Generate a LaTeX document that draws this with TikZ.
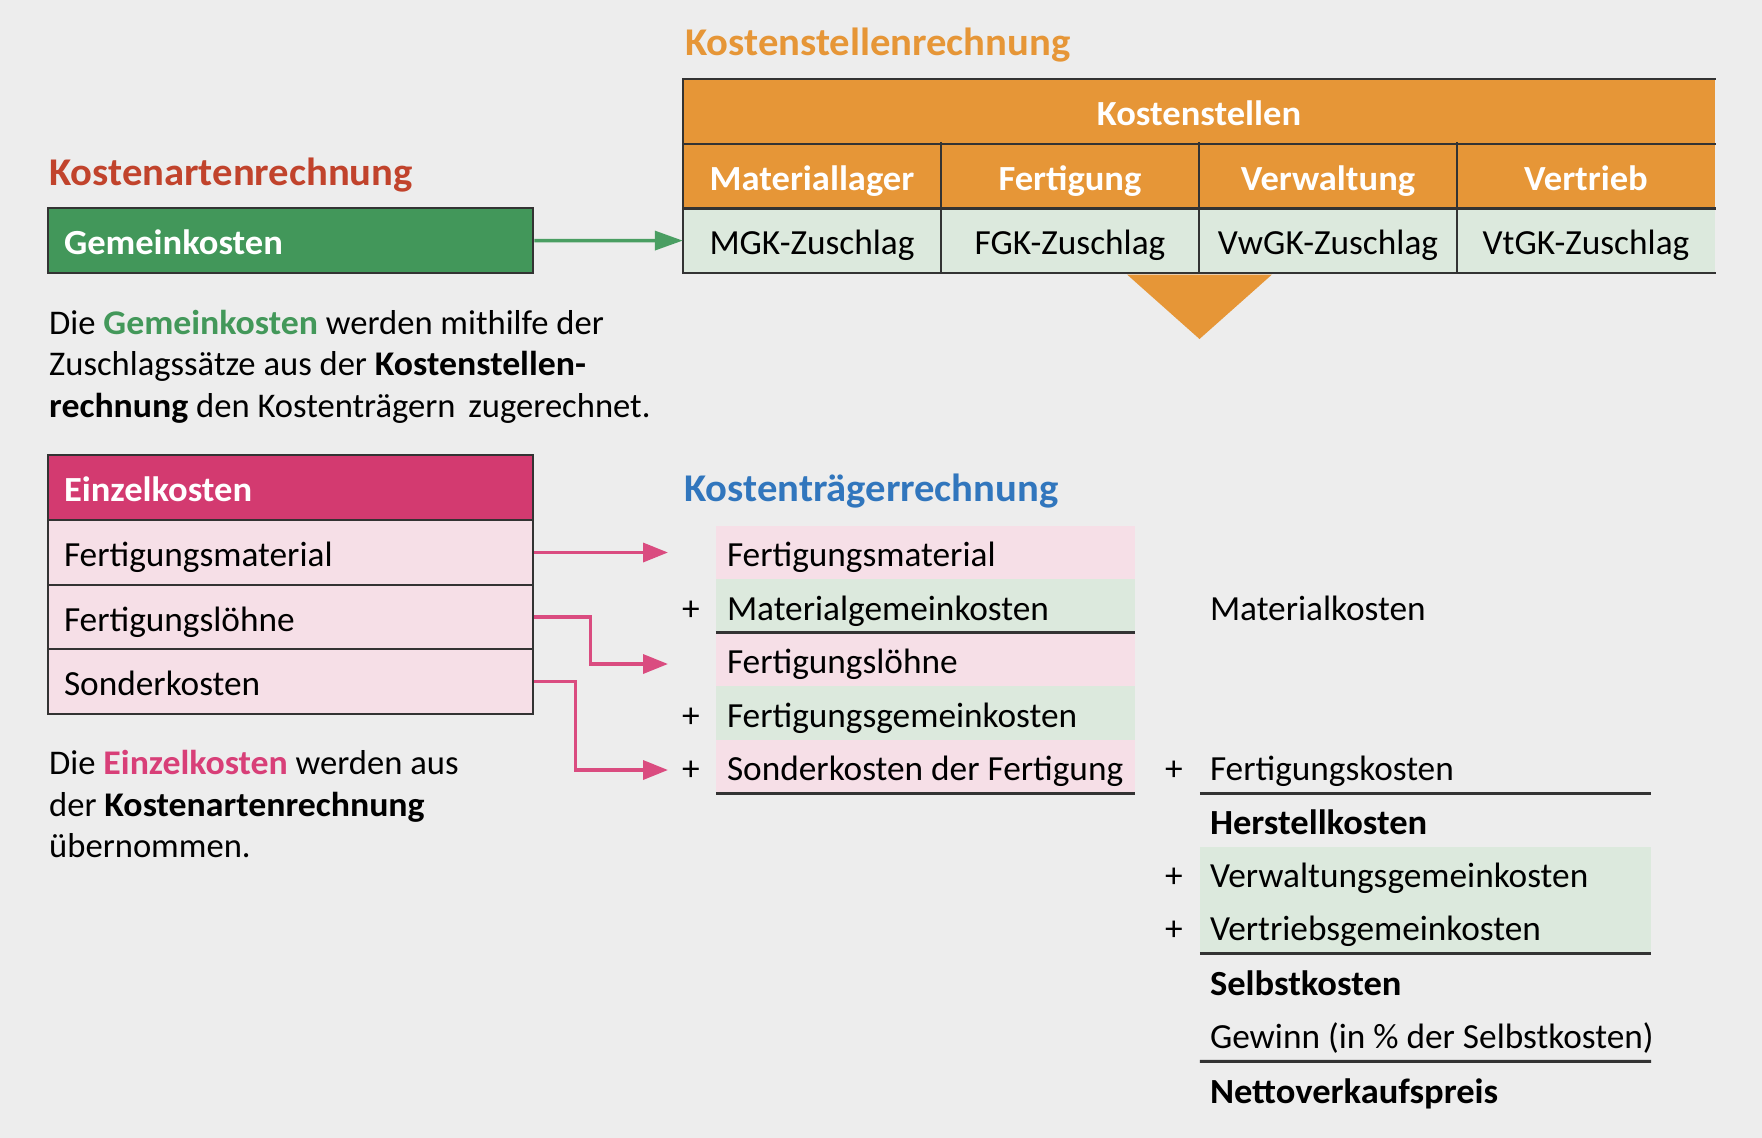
\documentclass[tikz,border=0pt]{standalone}
\usepackage{fontspec}
\setmainfont{Carlito}[BoldFeatures={FakeStretch=1.035}]
\usetikzlibrary{arrows.meta}
\definecolor{bg}{HTML}{EDEDED}
\definecolor{orng}{HTML}{E69637}
\definecolor{gbox}{HTML}{42975A}
\definecolor{gtext}{HTML}{43985A}
\definecolor{garrow}{HTML}{4A9E62}
\definecolor{phead}{HTML}{D33A70}
\definecolor{plight}{HTML}{F6DFE7}
\definecolor{ptext}{HTML}{D83F78}
\definecolor{parrow}{HTML}{DA4C80}
\definecolor{glight}{HTML}{DCE9DD}
\definecolor{tred}{HTML}{C1432C}
\definecolor{tblue}{HTML}{3176BD}
\definecolor{lnc}{HTML}{333333}
\begin{document}
\begin{tikzpicture}[x=1pt,y=-1pt,
  font=\fontsize{35.3}{42}\selectfont,
  txt/.style={inner sep=0pt, anchor=base west},
  ttl/.style={txt, font=\fontsize{39.3}{46}\selectfont\bfseries},
  para/.style={txt, font=\fontsize{34.6}{41}\selectfont},
  cell/.style={inner xsep=0pt, inner ysep=0pt, text height=28pt, text depth=0pt, anchor=center},
  lcell/.style={cell, minimum width=485pt, minimum height=65pt, text width=453pt, align=flush left, inner xsep=16pt, draw=lnc, line width=2.5pt},
  tcell/.style={cell, minimum width=258pt, minimum height=64.7pt},
  hlab/.style={text=white, font=\fontsize{35.3}{42}\selectfont\bfseries},
  krow/.style={cell, minimum height=53.5pt, text width=397pt, align=flush left, inner xsep=11pt},
  rrow/.style={cell, minimum height=53.5pt, text width=431pt, align=flush left, inner xsep=10pt},
  plus/.style={inner sep=0pt, anchor=base},
  grid/.style={draw=lnc, line width=2.5pt, line cap=rect},
  rule/.style={draw=lnc, line width=3pt},
  pinkarr/.style={draw=parrow, line width=3.5pt, -{Triangle[length=25pt,width=19pt]}},
  greenarr/.style={draw=garrow, line width=3.5pt, -{Triangle[length=28pt,width=19pt]}}
]
\useasboundingbox (0,0) rectangle (1762,1138);
\fill[bg] (0,0) rectangle (1762,1138);

% ---------- Kostenartenrechnung ----------
\node[ttl, text=tred] (t1) at (49,185.5) {Kostenartenrechnung};
\node[lcell, fill=gbox, hlab] (gk) at (290.5,240.5) {Gemeinkosten};

\node[para] (p1a) at (49,334) {Die \textcolor{gtext}{\textbf{Gemeinkosten}} werden mithilfe der};
\node[para] (p1b) at (49,375.5) {Zuschlagssätze aus der \textbf{Kostenstellen-}};
\node[para] (p1c) at (49,417) {\textbf{rechnung} den Kostenträgern\hspace{5pt} zugerechnet.};

\node[lcell, fill=phead, hlab] (ek) at (290.5,487.5) {Einzelkosten};
\node[lcell, fill=plight] (fm) at (290.5,552.5) {Fertigungsmaterial};
\node[lcell, fill=plight, minimum height=64pt] (fl) at (290.5,617) {Fertigungslöhne};
\node[lcell, fill=plight] (sk) at (290.5,681.5) {Sonderkosten};

\node[para] (p2a) at (49,774.5) {Die \textcolor{ptext}{\textbf{Einzelkosten}} werden aus};
\node[para] (p2b) at (49,816) {der \textbf{Kostenartenrechnung}};
\node[para] (p2c) at (49,857.5) {übernommen.};

% ---------- Kostenstellenrechnung ----------
\node[ttl, text=orng] (t2) at (685,55.5) {Kostenstellenrechnung};
\node[cell, fill=orng, hlab, minimum width=1032pt, minimum height=65pt] (ks) at (1199,111.5) {Kostenstellen};
\node[tcell, fill=orng, hlab] (ml) at (812,176) {Materiallager};
\node[tcell, fill=orng, hlab] (fg) at (1070,176) {Fertigung};
\node[tcell, fill=orng, hlab] (vw) at (1328,176) {Verwaltung};
\node[tcell, fill=orng, hlab] (vt) at (1586,176) {Vertrieb};
\node[tcell, fill=glight] (mgk) at (812,240.6) {MGK-Zuschlag};
\node[tcell, fill=glight] (fgk) at (1070,240.6) {FGK-Zuschlag};
\node[tcell, fill=glight] (vwgk) at (1328,240.6) {VwGK-Zuschlag};
\node[tcell, fill=glight] (vtgk) at (1586,240.6) {VtGK-Zuschlag};
\draw[grid] (ks.north west) -- (ks.north east);
\draw[grid] (ks.south west) -- (ks.south east);
\draw[grid] (ml.south west) -- (vt.south east);
\draw[grid] (mgk.south west) -- (vtgk.south east);
\draw[grid] (ks.north west) -- (mgk.south west);
\draw[grid] (ml.north east) -- (mgk.south east);
\draw[grid] (fg.north east) -- (fgk.south east);
\draw[grid] (vw.north east) -- (vwgk.south east);
\fill[orng] (1127,274.5) -- (1272,274.5) -- (1199.5,339) -- cycle;

\draw[greenarr] (gk.east) -- (mgk.west);

% ---------- Kostentraegerrechnung ----------
\node[ttl, text=tblue] (t3) at (684,501.5) {Kostenträgerrechnung};
\node[krow, fill=plight] (kt1) at (925.5,552.5) {Fertigungsmaterial};
\node[krow, fill=glight] (kt2) at (925.5,606) {Materialgemeinkosten};
\node[krow, fill=plight] (kt3) at (925.5,659.5) {Fertigungslöhne};
\node[krow, fill=glight] (kt4) at (925.5,713) {Fertigungsgemeinkosten};
\node[krow, fill=plight] (kt5) at (925.5,766.5) {\mbox{Sonderkosten der Fertigung}};
\node[plus] (pl2) at (691,620) {+};
\node[plus] (pl4) at (691,727) {+};
\node[plus] (pl5) at (691,780.5) {+};
\draw[rule] (kt2.south west) -- (kt2.south east);
\draw[rule] (kt5.south west) -- (kt5.south east);

\node[rrow] (rk1) at (1425.5,606) {Materialkosten};
\node[rrow] (rk2) at (1425.5,766.5) {Fertigungskosten};
\node[rrow] (rk3) at (1425.5,820.5) {\textbf{Herstellkosten}};
\node[rrow, fill=glight] (rk4) at (1425.5,873.5) {Verwaltungsgemeinkosten};
\node[rrow, fill=glight] (rk5) at (1425.5,926.5) {Vertriebsgemeinkosten};
\node[rrow] (rk6) at (1425.5,981.5) {\textbf{Selbstkosten}};
\node[rrow] (rk7) at (1425.5,1034.5) {\mbox{Gewinn (in \% der Selbstkosten)}};
\node[rrow] (rk8) at (1425.5,1089) {\textbf{Nettoverkaufspreis}};
\node[plus] (pr2) at (1174,780.5) {+};
\node[plus] (pr4) at (1174,887.5) {+};
\node[plus] (pr5) at (1174,940.5) {+};
\draw[rule] (rk2.south west) -- (rk2.south east);
\draw[rule] (rk5.south west) -- (rk5.south east);
\draw[rule] (rk7.south west) -- (1651,1061.25);

% ---------- pink arrows ----------
\coordinate (a1) at (668,552.5);
\coordinate (a2) at (668,664);
\coordinate (a3) at (668,770);
\draw[pinkarr] (fm.east) -- (a1);
\draw[pinkarr] (fl.east) -- ++(56,0) |- (a2);
\draw[pinkarr] (sk.east) -- ++(41,0) |- (a3);
\end{tikzpicture}
\end{document}
